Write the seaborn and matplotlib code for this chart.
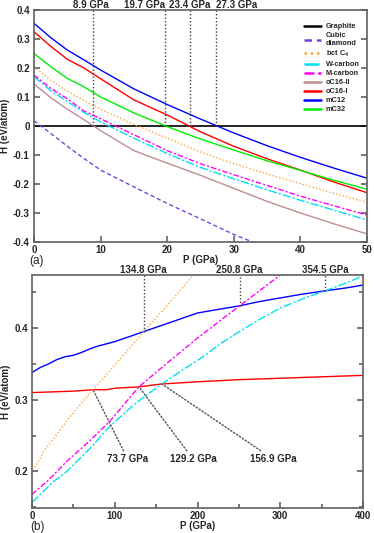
#!/usr/bin/env python3
"""
Enthalpy vs pressure of carbon phases
(a) relative to graphite, 0-50 GPa   (b) high pressure range, 0-400 GPa
"""

import numpy as np
import pandas as pd
import matplotlib
matplotlib.use('Agg')
import matplotlib.pyplot as plt
from matplotlib.ticker import MultipleLocator, FuncFormatter
import seaborn as sns


# ---------------- panel (a) data (GPa, eV/atom) ----------------
P_A = [0, 2.5, 5, 7.5, 10, 15, 20, 25, 30, 35, 40, 45, 50]
P_GRAPHITE_A = [0, 50]
H_GRAPHITE_A = [0.0, 0.0]
H_DIAMOND_A = [0.018, -0.025, -0.07, -0.112, -0.152, -0.21, -0.267, -0.32, -0.374, -0.42, -0.46, -0.5, -0.54]
H_BCT4_A = [0.205, 0.158, 0.12, 0.088, 0.058, 0.005, -0.042, -0.09, -0.13, -0.165, -0.199, -0.232, -0.263]
H_WCARBON_A = [0.17, 0.122, 0.085, 0.047, 0.014, -0.042, -0.095, -0.143, -0.182, -0.22, -0.256, -0.29, -0.324]
H_MCARBON_A = [0.176, 0.13, 0.094, 0.052, 0.025, -0.03, -0.085, -0.13, -0.168, -0.205, -0.242, -0.275, -0.307]
H_OC16II_A = [0.145, 0.098, 0.058, 0.022, -0.016, -0.085, -0.128, -0.17, -0.215, -0.26, -0.3, -0.337, -0.372]
H_OC16I_A = [0.325, 0.275, 0.23, 0.2, 0.163, 0.09, 0.038, -0.02, -0.07, -0.113, -0.152, -0.193, -0.23]
H_MC12_A = [0.354, 0.305, 0.262, 0.228, 0.193, 0.128, 0.074, 0.024, -0.024, -0.068, -0.108, -0.145, -0.18]
H_MC32_A = [0.25, 0.205, 0.164, 0.135, 0.1, 0.045, -0.002, -0.045, -0.083, -0.12, -0.153, -0.187, -0.218]
TRANS_A = [8.9, 19.7, 23.4, 27.3]

# ---------------- panel (b) data ----------------
P_MC12_B = [0, 10, 20, 30, 40, 50, 60, 70, 80, 100, 120, 134.8, 160, 180, 200, 225, 250.8, 275, 300, 325, 354.5, 380, 400]
H_MC12_B = [0.338, 0.345, 0.35, 0.356, 0.36, 0.362, 0.366, 0.371, 0.375, 0.381, 0.389, 0.395, 0.405, 0.413,
            0.421, 0.426, 0.431, 0.437, 0.442, 0.447, 0.452, 0.456, 0.46]
P_OC16I_B = [0, 50, 73.7, 90, 100, 129.2, 156.9, 200, 250, 300, 350, 400]
H_OC16I_B = [0.31, 0.312, 0.314, 0.314, 0.316, 0.318, 0.322, 0.325, 0.328, 0.33, 0.332, 0.334]
P_BCT4_B = [0, 7, 14, 25, 34, 45, 58, 73.7, 100, 134.8, 160, 195]
H_BCT4_B = [0.202, 0.212, 0.228, 0.244, 0.258, 0.275, 0.293, 0.314, 0.348, 0.395, 0.427, 0.474]
P_MCARBON_B = [0, 14, 20, 42, 70, 94, 129.2, 160, 200, 250.8, 275, 300]
H_MCARBON_B = [0.168, 0.182, 0.188, 0.214, 0.243, 0.27, 0.318, 0.348, 0.386, 0.431, 0.452, 0.474]
P_WCARBON_B = [0, 10, 18, 25, 42, 70, 94, 125, 156.9, 180, 204, 230, 252, 275, 300, 330, 354.5, 380, 400]
H_WCARBON_B = [0.157, 0.168, 0.177, 0.185, 0.2, 0.232, 0.263, 0.295, 0.322, 0.34, 0.358, 0.38, 0.396,
               0.412, 0.428, 0.442, 0.452, 0.463, 0.473]
TRANS_B_TOP = [134.8, 250.8, 354.5]
TRANS_B_LOW = [73.7, 129.2, 156.9]

# colours / styles
C_DIAMOND = '#7446d8'
C_BCT4 = '#ffa53d'
C_WCARBON = '#00e0f0'
C_MCARBON = '#ff00ff'
C_OC16II = '#bc8f8f'
C_OC16I = '#ff0000'
C_MC12 = '#0000ff'
C_MC32 = '#00ee00'
FRAME = '#606060'
DOT = (0, (1, 1.5))
WDASH = (0, (6, 1.5, 1.5, 1.5))
MDASH = (0, (4, 1.5, 1.5, 1.5))


def draw_curve(ax, p, h, color, style='-', label=None, lw=1.0):
    """Draw one enthalpy curve with seaborn."""
    df = pd.DataFrame({'P': p, 'H': h})
    sns.lineplot(data=df, x='P', y='H', ax=ax, color=color, linestyle=style,
                 lw=lw, label=label, sort=False, estimator=None)


def style_axes(ax):
    """Inward ticks, grey frame, bold tick labels."""
    for side in ax.spines.values():
        side.set_color(FRAME)
        side.set_linewidth(1.2)
    ax.tick_params(which='both', direction='in', color=FRAME, width=1.2,
                   left=True, right=True, top=False, bottom=True, labelsize=7)
    ax.tick_params(axis='x', pad=2)
    ax.tick_params(axis='y', pad=3)
    ax.tick_params(which='major', length=4)
    ax.tick_params(which='minor', length=3)
    for t in ax.get_xticklabels() + ax.get_yticklabels():
        t.set_fontweight('bold')
    ax.set_xlabel('P (GPa)', fontsize=7, fontweight='bold', labelpad=0)
    ax.set_ylabel('H (eV/atom)', fontsize=7, fontweight='bold', labelpad=2)


def tick_fmt(v, pos):
    if abs(v) < 1e-9:
        return '0'
    return f'{v:g}'


def top_label(ax, p, dx):
    """Pressure label just above the frame."""
    ax.annotate(f'{p} GPa', xy=(p, 1), xycoords=('data', 'axes fraction'),
                xytext=(dx, 1.6), textcoords='offset points',
                ha='center', va='baseline', fontsize=7, fontweight='bold',
                annotation_clip=False)


def panel_a(ax):
    draw_curve(ax, P_GRAPHITE_A, H_GRAPHITE_A, 'black', '-', 'Graphite', lw=1.2)
    draw_curve(ax, P_A, H_DIAMOND_A, C_DIAMOND, (0, (3, 2)), 'Cubic\ndiamond')
    draw_curve(ax, P_A, H_BCT4_A, C_BCT4, DOT, 'bct C$_4$')
    draw_curve(ax, P_A, H_WCARBON_A, C_WCARBON, WDASH, 'W-carbon')
    draw_curve(ax, P_A, H_MCARBON_A, C_MCARBON, MDASH, 'M-carbon')
    draw_curve(ax, P_A, H_OC16II_A, C_OC16II, '-', 'oC16-II')
    draw_curve(ax, P_A, H_OC16I_A, C_OC16I, '-', 'oC16-I')
    draw_curve(ax, P_A, H_MC12_A, C_MC12, '-', 'mC12')
    draw_curve(ax, P_A, H_MC32_A, C_MC32, '-', 'mC32')

    ax.set_xlim(0, 50)
    ax.set_ylim(-0.4, 0.4)
    ax.xaxis.set_major_locator(MultipleLocator(10))
    ax.yaxis.set_major_locator(MultipleLocator(0.1))
    ax.yaxis.set_major_formatter(FuncFormatter(tick_fmt))

    # transition pressures: dotted line from H=0 up, label above the frame
    label_shift = [-1.5, -15, 0, 15]
    for p, dx in zip(TRANS_A, label_shift):
        ax.plot([p, p], [0, 0.4], color='#404040', ls=DOT, lw=1)
        top_label(ax, p, dx)

    leg = ax.legend(loc='upper right', bbox_to_anchor=(1.0, 0.975), frameon=False,
                    fontsize=5.3, handlelength=2.2, handletextpad=0.7,
                    labelspacing=0.25, borderaxespad=0.6)
    for line in leg.get_lines():
        line.set_linewidth(1.8)
    for t in leg.get_texts():
        t.set_fontweight('bold')
    style_axes(ax)


def panel_b(ax):
    draw_curve(ax, P_OC16I_B, H_OC16I_B, C_OC16I, '-')
    draw_curve(ax, P_MC12_B, H_MC12_B, C_MC12, '-')
    draw_curve(ax, P_BCT4_B, H_BCT4_B, C_BCT4, DOT)
    draw_curve(ax, P_MCARBON_B, H_MCARBON_B, C_MCARBON, MDASH)
    draw_curve(ax, P_WCARBON_B, H_WCARBON_B, C_WCARBON, WDASH)

    ax.set_xlim(0, 400)
    ax.set_ylim(0.149, 0.474)
    ax.xaxis.set_major_locator(MultipleLocator(100))
    ax.xaxis.set_minor_locator(MultipleLocator(50))
    ax.yaxis.set_major_locator(MultipleLocator(0.1))
    ax.yaxis.set_minor_locator(MultipleLocator(0.05))
    ax.yaxis.set_major_formatter(FuncFormatter(tick_fmt))

    # crossings with mC12: vertical dotted line to the top, label above
    for p in TRANS_B_TOP:
        h = np.interp(p, P_MC12_B, H_MC12_B)
        ax.plot([p, p], [h, 0.474], color='#404040', ls=DOT, lw=1)
        top_label(ax, p, 0)

    # crossings with oC16-I: dotted leader down to a label
    offsets = [(25, -50), (39, -52), (80, -54)]
    for p, off in zip(TRANS_B_LOW, offsets):
        h = np.interp(p, P_OC16I_B, H_OC16I_B)
        ax.annotate(f'{p} GPa', xy=(p, h), xytext=off, textcoords='offset points',
                    ha='center', va='center', fontsize=7, fontweight='bold',
                    arrowprops=dict(arrowstyle='-', ls=DOT, color='#505050',
                                    lw=1, shrinkA=0, shrinkB=0))
    style_axes(ax)


def main():
    sns.set_theme(style='ticks')
    plt.rcParams['font.family'] = ['Liberation Sans', 'DejaVu Sans']
    plt.rcParams['mathtext.fontset'] = 'custom'
    plt.rcParams['mathtext.rm'] = 'Liberation Sans:bold'
    plt.rcParams['mathtext.it'] = 'Liberation Sans:bold'

    fig = plt.figure(figsize=(3.74, 5.33), dpi=100)
    ax_a = fig.add_axes([34 / 374, 1 - 242 / 533, 333 / 374, 232 / 533])
    ax_b = fig.add_axes([32 / 374, 1 - 508 / 533, 331 / 374, 233 / 533])

    panel_a(ax_a)
    panel_b(ax_b)

    fig.text(29 / 374, 1 - 261 / 533, '(a)', fontsize=8.5, va='center', ha='left')
    fig.text(30 / 374, 1 - 527 / 533, '(b)', fontsize=8.5, va='center', ha='left')

    fig.savefig('out.png', dpi=100)
    print('[SAVED] out.png')


if __name__ == '__main__':
    main()
